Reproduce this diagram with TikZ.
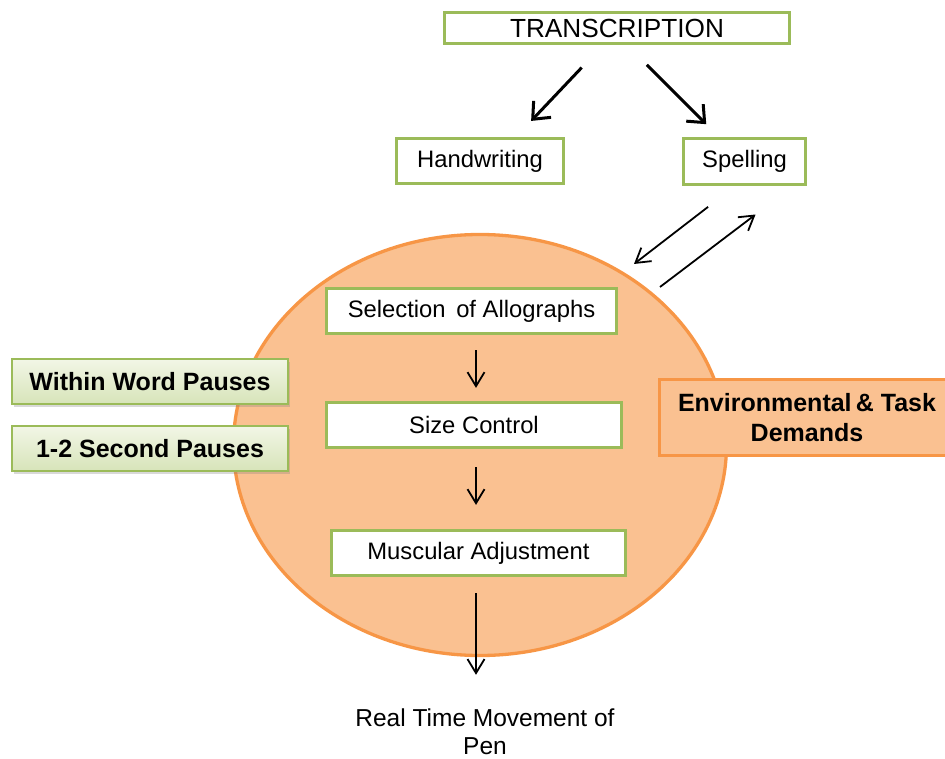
\documentclass[tikz,border=0pt]{standalone}
\usepackage{fontspec}
\setmainfont{Liberation Sans}
\usetikzlibrary{arrows.meta,shapes.geometric,shadows}
\definecolor{grn}{RGB}{155,187,89}
\definecolor{org}{RGB}{247,150,70}
\definecolor{orgfill}{RGB}{250,193,145}
\definecolor{lgtop}{RGB}{242,246,230}
\definecolor{lgbot}{RGB}{215,228,185}
\begin{document}
\begin{tikzpicture}[x=1pt,y=-1pt,
  gbox/.style={draw=grn, line width=3.2pt, fill=white, inner sep=0pt,
    font=\fontsize{23.8}{28}\selectfont},
  pbox/.style={draw=grn, line width=2.2pt, top color=lgtop, bottom color=lgbot,
    inner sep=0pt, minimum width=276pt, minimum height=45pt,
    drop shadow={shadow xshift=2pt, shadow yshift=-3pt, opacity=0.3},
    font=\fontsize{25}{28}\selectfont\bfseries},
  thk/.style={line width=3pt, -{Straight Barb[length=14pt,width=24pt]}},
  thn/.style={line width=1.8pt, -{Straight Barb[length=14pt,width=17pt]}}
]
\useasboundingbox (0,0) rectangle (945,759);

% big ellipse
\node[ellipse, draw=org, line width=3.3pt, fill=orgfill,
      minimum width=493pt, minimum height=421pt, inner sep=0pt] (ell) at (480,445) {};

% top boxes
\node[gbox, minimum width=345pt, minimum height=31pt, font=\fontsize{26.2}{28}\selectfont] (trans) at (617,28) {TRANSCRIPTION};
\node[gbox, minimum width=167pt, minimum height=45pt] (hw) at (480,161) {Handwriting};
\node[gbox, minimum width=122pt, minimum height=46pt] (sp) at (744.5,161.5) {Spelling};

% inner boxes
\node[gbox, minimum width=290pt, minimum height=45pt] (sel) at (471.5,311) {Selection\,\ of Allographs};
\node[gbox, minimum width=295pt, minimum height=45pt] (size) at (474,425) {Size Control};
\node[gbox, minimum width=294pt, minimum height=45pt] (mus) at (478.5,553) {Muscular Adjustment};

% pause boxes
\node[pbox] (www) at (150,381.5) {Within Word Pauses};
\node[pbox] (sec) at (150,448.5) {1-2 Second Pauses};

% environment box
\node[draw=org, line width=3pt, fill=orgfill, inner sep=0pt,
      minimum width=295pt, minimum height=76pt, align=center,
      font=\fontsize{25}{30}\selectfont\bfseries] (env) at (807,417.5)
      {Environmental\,\& Task\\Demands};

% result text
\node[inner sep=0pt, minimum width=310pt, minimum height=78pt, align=center,
      font=\fontsize{24.5}{28}\selectfont] (rt) at (485,732)
      {Real Time Movement of\\Pen};

% arrows from transcription
\draw[thk, shorten <=31pt, shorten >=22pt] ([xshift=-14pt]trans.south) -- ([xshift=36pt]hw.north);
\draw[thk, shorten <=28pt, shorten >=18pt] ([xshift=10pt]trans.south) -- ([xshift=-25.5pt]sp.north);

% spelling <-> ellipse
\coordinate (s1tip) at (634,264);
\coordinate (s2tail) at (660,287);
\draw[thn, shorten <=34pt] ([xshift=-9.5pt]sp.south) -- (s1tip);
\draw[thn, shorten >=47pt] (s2tail) -- ([xshift=48.5pt]sp.south);

% vertical chain
\draw[thn, shorten <=15pt, shorten >=13pt] ([xshift=4.5pt]sel.south) -- ([xshift=2pt]size.north);
\draw[thn, shorten <=18pt, shorten >=24pt] ([xshift=2pt]size.south) -- ([xshift=-2.5pt]mus.north);
\draw[thn, shorten <=16pt, shorten >=18pt] ([xshift=-2.5pt]mus.south) -- ([xshift=-9pt]rt.north);
\end{tikzpicture}
\end{document}
